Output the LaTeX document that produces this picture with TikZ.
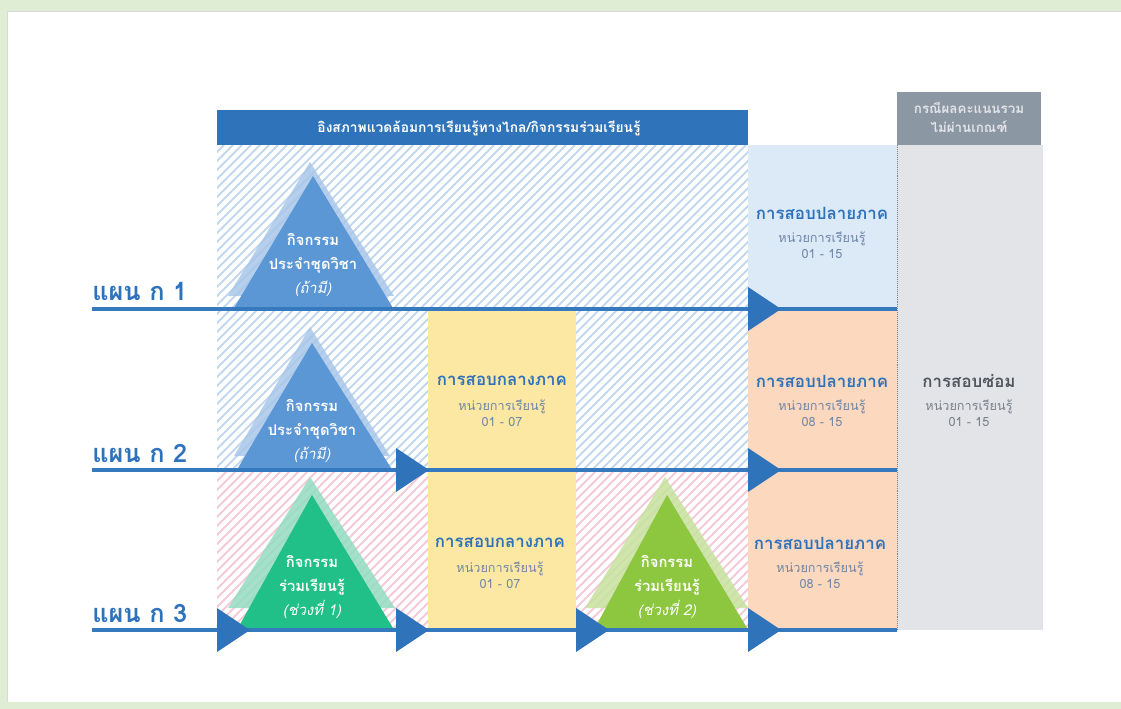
\documentclass[tikz,border=0pt]{standalone}
\usepackage{fontspec}
\setmainfont{Loma}[Script=Thai]

\definecolor{framegreen}{HTML}{DFEDD5}
\definecolor{barblue}{HTML}{2F74BA}
\definecolor{lineblue}{HTML}{3579BF}
\definecolor{hatchblue}{HTML}{C3D8EE}
\definecolor{hatchpink}{HTML}{F5CBD8}
\definecolor{paleblue}{HTML}{DCE9F6}
\definecolor{paleyellow}{HTML}{FDE8A3}
\definecolor{palepeach}{HTML}{FBD8BE}
\definecolor{palegray}{HTML}{E3E4E8}
\definecolor{headgray}{HTML}{8C97A4}
\definecolor{triblue}{HTML}{5B96D5}
\definecolor{triblueL}{HTML}{A9C7EA}
\definecolor{trigreen}{HTML}{20C088}
\definecolor{trigreenL}{HTML}{93DCC2}
\definecolor{trilime}{HTML}{8DC73F}
\definecolor{trilimeL}{HTML}{C6E29E}
\definecolor{titleblue}{HTML}{2F72BC}
\definecolor{subslate}{HTML}{6F87A8}
\definecolor{titlegray}{HTML}{52575E}
\definecolor{subgray}{HTML}{7B8089}

\begin{document}
\begin{tikzpicture}[x=0.025cm, y=-0.025cm,
        plan/.style={anchor=base west, inner sep=0pt, text=titleblue, font=\bfseries\fontsize{18}{20}\selectfont},
        examtitle/.style={inner sep=0pt, text=titleblue, font=\bfseries\fontsize{12}{14}\selectfont},
        examunit/.style={inner sep=0pt, align=center, text=subslate, font=\fontsize{9}{11.3}\selectfont},
        tritext/.style={inner sep=0pt, align=center, text=white, font=\bfseries\fontsize{10.5}{17}\selectfont},
        stripe/.style={line width=1.4pt},
        timeline/.style={lineblue, line width=2.2pt},
        runarrow/.style={fill=barblue}
    ]
        \useasboundingbox (0,0) rectangle (1121,709);

        % Sfondo
        \fill[framegreen] (0,0) rectangle (1121,709);
        \fill[white] (7,11) rectangle (1121,702);
        \draw[black!15] (7,702) -- (7,11) -- (1121,11);

        % Aree tratteggiate
        \begin{scope}
            \clip (217,145) rectangle (748,470);
            \foreach \x in {-110,-101,...,750}
                \draw[stripe, hatchblue] (\x,470) -- ++(325,-325);
        \end{scope}
        \begin{scope}
            \clip (217,470) rectangle (748,630);
            \foreach \x in {50,59,...,750}
                \draw[stripe, hatchpink] (\x,630) -- ++(160,-160);
        \end{scope}

        % Colonne degli esami
        \fill[paleblue] (748,145) rectangle (897,309);
        \fill[palepeach] (748,309) rectangle (897,630);
        \fill[paleyellow] (428,309) rectangle (576,630);
        \fill[palegray] (897,145) rectangle (1043,630);
        \draw[subgray, densely dotted] (897,145) -- (897,630);

        % Intestazioni
        \fill[barblue] (217,110) rectangle (748,145);
        \node[inner sep=0pt, text=white, font=\bfseries\fontsize{9.8}{12}\selectfont] (envbar) at (479,128)
            {อิงสภาพแวดล้อมการเรียนรู้ทางไกล/กิจกรรมร่วมเรียนรู้};
        \fill[headgray] (897,92) rectangle (1041,145);
        \node[inner sep=0pt, align=center, text=palegray, font=\bfseries\fontsize{9.5}{13.5}\selectfont] (failcase) at (969,117)
            {กรณีผลคะแนนรวม\\ไม่ผ่านเกณฑ์};

        % Triangoli delle attivita
        \fill[triblueL, opacity=0.85] (310,162) -- (394,296) -- (228,296) -- cycle;
        \fill[triblue] (313,176) -- (393,308) -- (234,308) -- cycle;
        \fill[triblueL, opacity=0.85] (310,327) -- (390,456) -- (234,456) -- cycle;
        \fill[triblue] (312,343) -- (391,468) -- (238,468) -- cycle;
        \fill[trigreenL, opacity=0.85] (310,477) -- (395,608) -- (228,608) -- cycle;
        \fill[trigreen] (312,495) -- (393,628) -- (238,628) -- cycle;
        \fill[trilimeL, opacity=0.85] (665,477) -- (748,608) -- (585,608) -- cycle;
        \fill[trilime] (667,495) -- (747,628) -- (595,628) -- cycle;

        % Linee dei piani
        \coordinate (p1s) at (92,309);
        \coordinate (p1e) at (897,309);
        \coordinate (p2s) at (92,470);
        \coordinate (p2e) at (897,470);
        \coordinate (p3s) at (92,630);
        \coordinate (p3e) at (897,630);
        \draw[timeline] (p1s) -- (p1e);
        \draw[timeline] (p2s) -- (p2e);
        \draw[timeline] (p3s) -- (p3e);

        % Frecce
        \fill[runarrow] (748,287) -- ++(33,22) -- ++(-33,22) -- cycle;
        \fill[runarrow] (396,448) -- ++(33,22) -- ++(-33,22) -- cycle;
        \fill[runarrow] (748,448) -- ++(33,22) -- ++(-33,22) -- cycle;
        \fill[runarrow] (217,608) -- ++(33,22) -- ++(-33,22) -- cycle;
        \fill[runarrow] (396,608) -- ++(33,22) -- ++(-33,22) -- cycle;
        \fill[runarrow] (576,608) -- ++(33,22) -- ++(-33,22) -- cycle;
        \fill[runarrow] (748,608) -- ++(33,22) -- ++(-33,22) -- cycle;

        % Etichette dei piani
        \node[plan] (plan1) at (92,301) {แผน ก 1};
        \node[plan] (plan2) at (92,462) {แผน ก 2};
        \node[plan] (plan3) at (92,622) {แผน ก 3};

        % Testi nei triangoli
        \node[tritext] (act1) at (313,265) {กิจกรรม\\ประจำชุดวิชา\\{\mdseries\itshape (ถ้ามี)}};
        \node[tritext] (act2) at (312,431) {กิจกรรม\\ประจำชุดวิชา\\{\mdseries\itshape (ถ้ามี)}};
        \node[tritext] (join1) at (312,587) {กิจกรรม\\ร่วมเรียนรู้\\{\mdseries\itshape (ช่วงที่ 1)}};
        \node[tritext] (join2) at (667,587) {กิจกรรม\\ร่วมเรียนรู้\\{\mdseries\itshape (ช่วงที่ 2)}};

        % Esami
        \node[examtitle] (final1) at (822,213) {การสอบปลายภาค};
        \node[examunit] (final1unit) at (822,245) {หน่วยการเรียนรู้\\01 - 15};
        \node[examtitle] (mid2) at (502,381) {การสอบกลางภาค};
        \node[examunit] (mid2unit) at (502,413) {หน่วยการเรียนรู้\\01 - 07};
        \node[examtitle] (final2) at (822,381) {การสอบปลายภาค};
        \node[examunit] (final2unit) at (822,413) {หน่วยการเรียนรู้\\08 - 15};
        \node[examtitle] (mid3) at (500,543) {การสอบกลางภาค};
        \node[examunit] (mid3unit) at (500,575) {หน่วยการเรียนรู้\\01 - 07};
        \node[examtitle] (final3) at (820,543) {การสอบปลายภาค};
        \node[examunit] (final3unit) at (820,575) {หน่วยการเรียนรู้\\08 - 15};
        \node[examtitle, text=titlegray] (remedial) at (969,381) {การสอบซ่อม};
        \node[examunit, text=subgray] (remedialunit) at (969,413) {หน่วยการเรียนรู้\\01 - 15};
    \end{tikzpicture}
\end{document}
